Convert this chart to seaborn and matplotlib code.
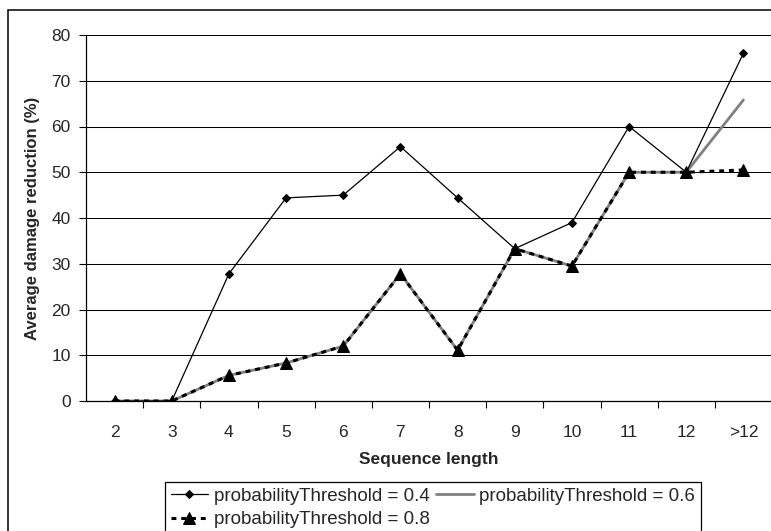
import matplotlib.pyplot as plt
import matplotlib.patches as mpatches
import seaborn as sns

categories = ["2", "3", "4", "5", "6", "7", "8", "9", "10", "11", "12", ">12"]
thr_04 = [0, 0, 27.8, 44.4, 45.0, 55.6, 44.4, 33.3, 39.0, 60.0, 50.0, 76.0]
thr_06 = [0, 0, 5.6, 8.3, 12.0, 27.8, 11.1, 33.3, 29.5, 50.0, 50.0, 65.8]
thr_08 = [0, 0, 5.6, 8.3, 12.0, 27.8, 11.1, 33.3, 29.5, 50.0, 50.0, 50.5]
y_ticks = [0, 10, 20, 30, 40, 50, 60, 70, 80]

sns.set_style("white")
plt.rcParams["font.family"] = ["Liberation Sans", "DejaVu Sans"]

W, H = 771, 531
fig = plt.figure(figsize=(W / 100, H / 100), dpi=100)
ax = fig.add_axes([86 / W, 1 - 401 / H, (772 - 86) / W, (401 - 35) / H])

xpos = list(range(len(categories)))

# grid first, lines on top
for v in y_ticks:
    ax.axhline(v, color="black", lw=0.75, zorder=1)

sns.lineplot(x=xpos, y=thr_06, ax=ax, color="#808080", lw=2.0,
             label="probabilityThreshold = 0.6", zorder=3)
sns.lineplot(x=xpos, y=thr_08, ax=ax, color="black", lw=2.2,
             linestyle=(0, (1.6, 1.6)), marker="^", markersize=8,
             markeredgecolor="black", label="probabilityThreshold = 0.8", zorder=4)
sns.lineplot(x=xpos, y=thr_04, ax=ax, color="black", lw=0.9,
             marker="D", markersize=4, markeredgecolor="black",
             label="probabilityThreshold = 0.4", zorder=5)

ax.set_xlim(-0.5, len(categories) - 0.5)
ax.set_ylim(0, 80)
ax.set_yticks(y_ticks)
ax.set_xticks(xpos)
ax.set_xticklabels(categories)
ax.set_xticks([i + 0.5 for i in xpos[:-1]], minor=True)
ax.tick_params(axis="x", which="major", length=0, pad=17, labelsize=12.5)
ax.tick_params(axis="x", which="minor", length=5, width=0.8, direction="out",
               color="black", bottom=True)
ax.tick_params(axis="y", length=5, width=0.8, direction="out", color="black",
               left=True, pad=6, labelsize=12.5)

for s in ["top", "right"]:
    ax.spines[s].set_visible(False)
for s in ["left", "bottom"]:
    ax.spines[s].set_color("black")
    ax.spines[s].set_linewidth(0.9)

ax.set_xlabel("Sequence length", fontsize=12.5, fontweight="bold", labelpad=9)
ax.set_ylabel("Average damage reduction (%)", fontsize=12, fontweight="bold",
              labelpad=8)

ax.get_legend().remove()
lines = {l.get_label(): l for l in ax.get_lines()}
order = ["probabilityThreshold = 0.4", "probabilityThreshold = 0.8",
         "probabilityThreshold = 0.6"]
leg = fig.legend([lines[k] for k in order], order, ncol=2, loc="upper left",
                 bbox_to_anchor=(165 / W, 1 - 482 / H), borderaxespad=0,
                 fontsize=13.5, frameon=True, fancybox=False, framealpha=1,
                 edgecolor="black", handlelength=2.0, handletextpad=0.3,
                 columnspacing=0.35, labelspacing=0.35, borderpad=0.3)
leg.get_frame().set_linewidth(0.9)

# outer chart border, cut off at the right and bottom like the reference
fig.patches.append(mpatches.Rectangle((8 / W, -0.1), 1.2, 1.1 - 10 / H,
                                      transform=fig.transFigure, fill=False,
                                      edgecolor="black", lw=1.1))

fig.savefig("out.png", dpi=100)
